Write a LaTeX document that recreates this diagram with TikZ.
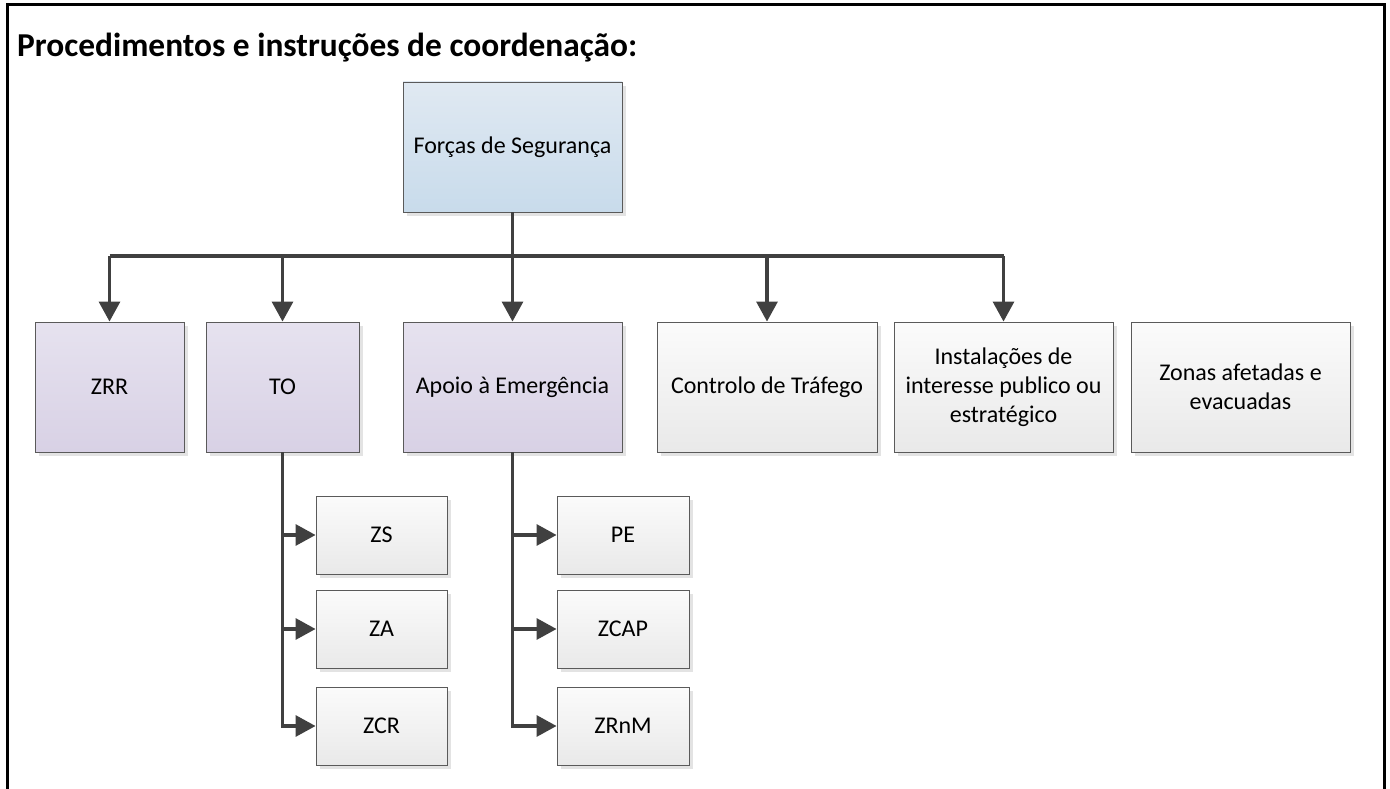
\documentclass[tikz,border=0pt]{standalone}
\usepackage{fontspec}
\setmainfont{Carlito}
\usetikzlibrary{arrows.meta,shadows}
\definecolor{linec}{HTML}{404040}
\definecolor{boxline}{HTML}{5A5A5A}
\definecolor{bluetop}{HTML}{E0E9F2}
\definecolor{bluebot}{HTML}{C8DBEB}
\definecolor{purtop}{HTML}{E6E2EF}
\definecolor{purbot}{HTML}{D8D1E5}
\definecolor{graytop}{HTML}{FBFBFB}
\definecolor{graybot}{HTML}{E9E9E9}
\definecolor{shadowc}{HTML}{E3E3E3}
\tikzset{
  basebox/.style={draw=boxline, line width=0.9pt, inner sep=2pt, align=center,
    font=\fontsize{24}{29}\selectfont,
    drop shadow={shadow xshift=4pt, shadow yshift=-4pt, fill=shadowc, opacity=1}},
  bluebox/.style={basebox, top color=bluetop, bottom color=bluebot},
  purbox/.style={basebox, top color=purtop, bottom color=purbot},
  graybox/.style={basebox, top color=graytop, bottom color=graybot},
  conn/.style={draw=linec, line width=3.2pt},
  arr/.style={conn, -{Triangle[length=20pt,width=21pt]}},
}
\begin{document}
\begin{tikzpicture}[x=1pt,y=-1pt]
\useasboundingbox (0,0) rectangle (1390,789);
\draw[line width=3pt] (7,789) -- (7,5) -- (1384,5) -- (1384,789);
\node[anchor=base west, inner sep=0, font=\bfseries\fontsize{33.4}{40}\selectfont] (title) at (17,57) {Procedimentos e instruções de coordenação:};

\node[bluebox, minimum width=219pt, minimum height=130pt] (top) at (512.5,147) {Forças de Segurança};

\node[purbox, minimum width=149pt, minimum height=130pt] (zrr) at (109.5,387) {ZRR};
\node[purbox, minimum width=153pt, minimum height=130pt] (to) at (282.5,387) {TO};
\node[purbox, minimum width=219pt, minimum height=130pt] (apoio) at (512.5,387) {Apoio à Emergência};
\node[graybox, minimum width=220pt, minimum height=130pt] (ctrl) at (767,387) {Controlo de Tráfego};
\node[graybox, minimum width=219pt, minimum height=130pt] (inst) at (1003.5,387) {Instalações de\\interesse publico ou\\estratégico};
\node[graybox, minimum width=219pt, minimum height=130pt] (zonas) at (1240.5,387) {Zonas afetadas e\\evacuadas};

\node[graybox, minimum width=131pt, minimum height=78pt] (zs) at (381.5,535) {ZS};
\node[graybox, minimum width=131pt, minimum height=78pt] (za) at (381.5,629) {ZA};
\node[graybox, minimum width=131pt, minimum height=78pt] (zcr) at (381.5,726) {ZCR};
\node[graybox, minimum width=132pt, minimum height=78pt] (pe) at (623,535) {PE};
\node[graybox, minimum width=132pt, minimum height=78pt] (zcap) at (623,629) {ZCAP};
\node[graybox, minimum width=132pt, minimum height=78pt] (zrnm) at (623,726) {ZRnM};

\coordinate (bus) at (512.5,256);
\draw[conn] (top.south) -- (bus);
\draw[conn] (zrr.north |- bus) -- (inst.north |- bus);
\foreach \n in {zrr,to,apoio,ctrl,inst}
  \draw[arr] (\n.north |- bus) -- (\n.north);

\draw[arr] (to.south) |- (zcr.west);
\draw[arr] (to.south |- zs.west) -- (zs.west);
\draw[arr] (to.south |- za.west) -- (za.west);
\draw[arr] (apoio.south) |- (zrnm.west);
\draw[arr] (apoio.south |- pe.west) -- (pe.west);
\draw[arr] (apoio.south |- zcap.west) -- (zcap.west);
\end{tikzpicture}
\end{document}
